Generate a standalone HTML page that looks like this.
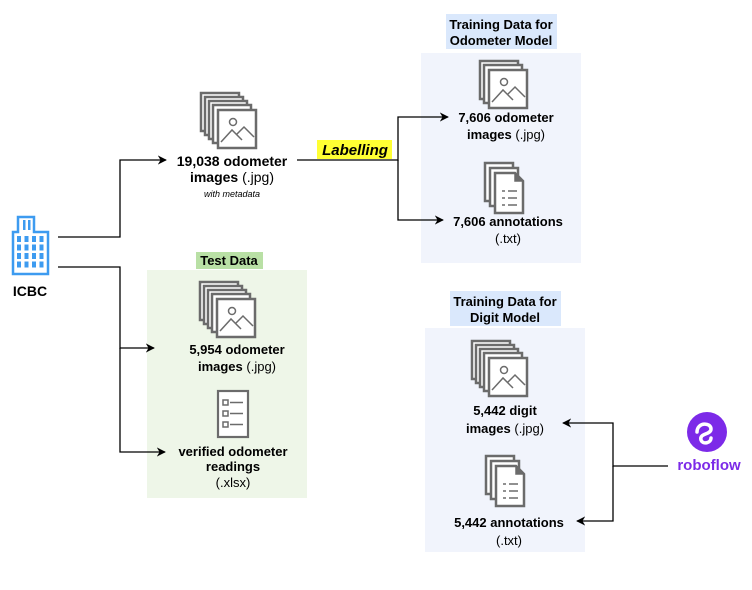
<!DOCTYPE html>
<html><head><meta charset="utf-8"><style>
body{margin:0;background:#fff;}
text{font-family:"Liberation Sans",Arial,sans-serif;font-size:13px;text-anchor:middle;fill:#000;}
.b{font-weight:bold;}
</style></head><body>
<svg width="752" height="585" viewBox="0 0 752 585" xmlns="http://www.w3.org/2000/svg">
<defs>
<marker id="ar" viewBox="0 0 10 10" refX="9" refY="5" markerWidth="7" markerHeight="7" orient="auto"><path d="M0,0 L10,5 L0,10 L3,5z" fill="#000"/></marker>
<pattern id="win" x="16" y="236" width="7.5" height="8.5" patternUnits="userSpaceOnUse"><rect x="1" y="0" width="4" height="6" fill="#3d9bf0"/></pattern>
<g id="pic">
<rect x="0" y="0" width="38" height="38" fill="#fff" stroke="#6b6b6b" stroke-width="2.5"/>
<circle cx="15" cy="12" r="3.5" fill="none" stroke="#6b6b6b" stroke-width="1.5"/>
<path d="M3,32 L14,20 L24,30 M18,25 L26,17 L36,27" fill="none" stroke="#6b6b6b" stroke-width="1.5"/>
</g>
<g id="pg"><rect x="0" y="0" width="38" height="38" fill="#fff" stroke="#6b6b6b" stroke-width="2.5"/></g>
<g id="stack5">
<use href="#pg" x="0" y="0"/><use href="#pg" x="4" y="4"/><use href="#pg" x="8" y="8"/><use href="#pg" x="12" y="12"/><use href="#pic" x="17" y="17"/>
</g>
<g id="stack3">
<use href="#pg" x="0" y="0"/><use href="#pg" x="4" y="4"/><use href="#pic" x="9" y="9"/>
</g>
<g id="doc">
<path d="M0,0 H28 V38 H0Z" fill="#fff" stroke="#6b6b6b" stroke-width="2.5"/>
<path d="M5,5 H33 V43 H5Z" fill="#fff" stroke="#6b6b6b" stroke-width="2.5"/>
<path d="M10,10 H30 L38,18 V50 H10Z" fill="#fff" stroke="#6b6b6b" stroke-width="2.5"/>
<path d="M30,10 V18 H38" fill="#6b6b6b" stroke="#6b6b6b" stroke-width="1.5"/>
<path d="M17,28h3M23,28h9M17,35h3M23,35h9M17,42h3M23,42h9" stroke="#6b6b6b" stroke-width="1.5"/>
</g>
</defs>

<rect x="421" y="53" width="160" height="210" fill="#f1f4fc"/>
<rect x="147" y="270" width="160" height="228" fill="#eef6e8"/>
<rect x="425" y="328" width="160" height="224" fill="#f1f4fc"/>

<rect x="446" y="14" width="111" height="35" fill="#dae8fc"/>
<text class="b" x="501" y="29">Training Data for</text>
<text class="b" x="501" y="45">Odometer Model</text>
<rect x="196" y="252" width="67" height="17" fill="#b9e0a5"/>
<text class="b" x="229" y="265">Test Data</text>
<rect x="450" y="291" width="111" height="35" fill="#dae8fc"/>
<text class="b" x="505" y="306">Training Data for</text>
<text class="b" x="505" y="322">Digit Model</text>

<path d="M18,232 V217 H34 V232 H48 V274 H13 V232 Z" fill="#fff" stroke="#3d9bf0" stroke-width="2.5"/>
<rect x="23" y="220" width="2.5" height="10" fill="#3d9bf0"/><rect x="28" y="220" width="2.5" height="10" fill="#3d9bf0"/>
<rect x="16" y="236" width="30" height="34" fill="url(#win)"/>
<text class="b" x="30" y="296" style="font-size:14px">ICBC</text>

<g stroke="#000" stroke-width="1.3" fill="none">
<path d="M58,237 H120 V160 H166" marker-end="url(#ar)"/>
<path d="M58,267 H120 V348 H154" marker-end="url(#ar)"/>
<path d="M120,348 V452 H165" marker-end="url(#ar)"/>
<path d="M297,160 H398 V117 H448" marker-end="url(#ar)"/>
<path d="M398,160 V220 H443" marker-end="url(#ar)"/>
<path d="M668,466 H613 V423 H563" marker-end="url(#ar)"/>
<path d="M613,466 V521 H577" marker-end="url(#ar)"/>
</g>
<rect x="317" y="140" width="75" height="19" fill="#ffff33"/>
<text class="b" x="355" y="155" style="font-size:15px;font-style:italic">Labelling</text>

<use href="#stack5" x="201" y="93"/>
<use href="#stack3" x="480" y="61"/>
<use href="#doc" x="485" y="163"/>
<use href="#stack5" x="200" y="282"/>
<use href="#stack5" x="472" y="341"/>
<use href="#doc" x="486" y="456"/>
<g stroke="#6b6b6b" stroke-width="2.2" fill="#fff">
<rect x="218" y="391" width="30" height="46"/>
<rect x="223" y="400" width="5" height="5" stroke-width="1.5"/><rect x="223" y="411" width="5" height="5" stroke-width="1.5"/><rect x="223" y="422" width="5" height="5" stroke-width="1.5"/>
<path d="M230,402.5h13M230,413.5h13M230,424.5h13" stroke-width="1.5"/>
</g>

<text class="b" x="232" y="166" style="font-size:14px">19,038 odometer</text>
<text x="232" y="182" style="font-size:14px"><tspan class="b">images</tspan> (.jpg)</text>
<text x="232" y="197" style="font-size:9px;font-style:italic">with metadata</text>

<text class="b" x="506" y="122">7,606 odometer</text>
<text x="506" y="139"><tspan class="b">images</tspan> (.jpg)</text>
<text class="b" x="508" y="226">7,606 annotations</text>
<text x="508" y="243">(.txt)</text>

<text class="b" x="237" y="354">5,954 odometer</text>
<text x="237" y="371"><tspan class="b">images</tspan> (.jpg)</text>
<text class="b" x="233" y="456">verified odometer</text>
<text class="b" x="233" y="471">readings</text>
<text x="233" y="487">(.xlsx)</text>

<text class="b" x="505" y="415">5,442 digit</text>
<text x="505" y="433"><tspan class="b">images</tspan> (.jpg)</text>
<text class="b" x="509" y="527">5,442 annotations</text>
<text x="509" y="545">(.txt)</text>

<circle cx="707" cy="432" r="20" fill="#7c2ae8"/>
<path d="M697,432 c0,-10 14,-10 14,-3 c0,6 -12,4 -10,11 c2,5 10,3 10,-2" fill="none" stroke="#fff" stroke-width="3.5" stroke-linecap="round"/>
<text x="709" y="470" style="font-size:15px;font-weight:bold;fill:#7c2ae8">roboflow</text>
</svg>
</body></html>
